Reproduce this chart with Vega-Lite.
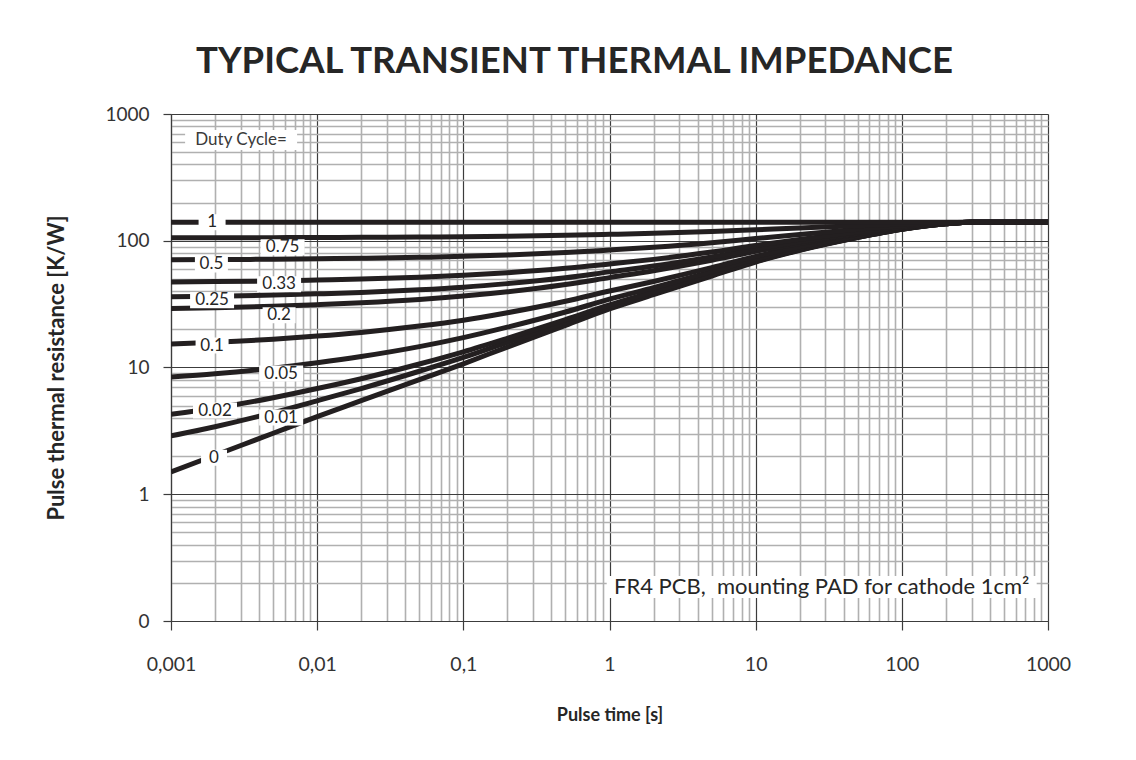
{
  "$schema": "https://vega.github.io/schema/vega-lite/v6.json",
  "width": 877,
  "height": 507,
  "autosize": {"type": "none"},
  "padding": {"left": 171, "top": 114, "right": 88, "bottom": 139},
  "background": "white",
  "title": {
    "text": "TYPICAL TRANSIENT THERMAL IMPEDANCE",
    "font": "Lato",
    "fontSize": 36.5,
    "fontWeight": "bold",
    "color": "#262626",
    "anchor": "middle",
    "frame": "group",
    "baseline": "alphabetic",
    "offset": 32,
    "dx": -35,
    "dy": 36
  },
  "datasets": {
    "curves": [
      {"d":"0","t":0.001,"z":1.5},{"d":"0","t":0.002,"z":2.03},{"d":"0","t":0.005,"z":3.03},{"d":"0","t":0.01,"z":4.1},{"d":"0","t":0.02,"z":5.47},{"d":"0","t":0.05,"z":8.02},{"d":"0","t":0.1,"z":10.7},{"d":"0","t":0.2,"z":14.5},{"d":"0","t":0.5,"z":21.5},{"d":"0","t":1,"z":29},{"d":"0","t":2,"z":37.5},{"d":"0","t":5,"z":52.6},{"d":"0","t":10,"z":68},{"d":"0","t":20,"z":84},{"d":"0","t":50,"z":106},{"d":"0","t":100,"z":123},{"d":"0","t":200,"z":136},{"d":"0","t":300,"z":140},{"d":"0","t":1000,"z":140},
      {"d":"0.01","t":0.001,"z":2.89},{"d":"0.01","t":0.002,"z":3.41},{"d":"0.01","t":0.005,"z":4.4},{"d":"0.01","t":0.01,"z":5.46},{"d":"0.01","t":0.02,"z":6.82},{"d":"0.01","t":0.05,"z":9.34},{"d":"0.01","t":0.1,"z":12},{"d":"0.01","t":0.2,"z":15.8},{"d":"0.01","t":0.5,"z":22.7},{"d":"0.01","t":1,"z":30.1},{"d":"0.01","t":2,"z":38.5},{"d":"0.01","t":5,"z":53.5},{"d":"0.01","t":10,"z":68.7},{"d":"0.01","t":20,"z":84.6},{"d":"0.01","t":50,"z":106.3},{"d":"0.01","t":100,"z":123.2},{"d":"0.01","t":200,"z":136},{"d":"0.01","t":300,"z":140},{"d":"0.01","t":1000,"z":140},
      {"d":"0.02","t":0.001,"z":4.27},{"d":"0.02","t":0.002,"z":4.79},{"d":"0.02","t":0.005,"z":5.77},{"d":"0.02","t":0.01,"z":6.82},{"d":"0.02","t":0.02,"z":8.16},{"d":"0.02","t":0.05,"z":10.66},{"d":"0.02","t":0.1,"z":13.3},{"d":"0.02","t":0.2,"z":17},{"d":"0.02","t":0.5,"z":23.9},{"d":"0.02","t":1,"z":31.2},{"d":"0.02","t":2,"z":39.6},{"d":"0.02","t":5,"z":54.4},{"d":"0.02","t":10,"z":69.4},{"d":"0.02","t":20,"z":85.1},{"d":"0.02","t":50,"z":106.7},{"d":"0.02","t":100,"z":123.3},{"d":"0.02","t":200,"z":136.1},{"d":"0.02","t":300,"z":140},{"d":"0.02","t":1000,"z":140},
      {"d":"0.05","t":0.001,"z":8.43},{"d":"0.05","t":0.002,"z":8.93},{"d":"0.05","t":0.005,"z":9.88},{"d":"0.05","t":0.01,"z":10.9},{"d":"0.05","t":0.02,"z":12.2},{"d":"0.05","t":0.05,"z":14.6},{"d":"0.05","t":0.1,"z":17.2},{"d":"0.05","t":0.2,"z":20.8},{"d":"0.05","t":0.5,"z":27.4},{"d":"0.05","t":1,"z":34.6},{"d":"0.05","t":2,"z":42.6},{"d":"0.05","t":5,"z":57},{"d":"0.05","t":10,"z":71.6},{"d":"0.05","t":20,"z":86.8},{"d":"0.05","t":50,"z":107.7},{"d":"0.05","t":100,"z":123.9},{"d":"0.05","t":200,"z":136.2},{"d":"0.05","t":300,"z":140},{"d":"0.05","t":1000,"z":140},
      {"d":"0.1","t":0.001,"z":15.35},{"d":"0.1","t":0.002,"z":15.83},{"d":"0.1","t":0.005,"z":16.73},{"d":"0.1","t":0.01,"z":17.69},{"d":"0.1","t":0.02,"z":18.92},{"d":"0.1","t":0.05,"z":21.22},{"d":"0.1","t":0.1,"z":23.6},{"d":"0.1","t":0.2,"z":27.05},{"d":"0.1","t":0.5,"z":33.35},{"d":"0.1","t":1,"z":40.1},{"d":"0.1","t":2,"z":47.75},{"d":"0.1","t":5,"z":61.3},{"d":"0.1","t":10,"z":75.2},{"d":"0.1","t":20,"z":89.6},{"d":"0.1","t":50,"z":109.4},{"d":"0.1","t":100,"z":124.7},{"d":"0.1","t":200,"z":136.4},{"d":"0.1","t":300,"z":140},{"d":"0.1","t":1000,"z":140},
      {"d":"0.2","t":0.001,"z":29.2},{"d":"0.2","t":0.002,"z":29.6},{"d":"0.2","t":0.005,"z":30.4},{"d":"0.2","t":0.01,"z":31.3},{"d":"0.2","t":0.02,"z":32.4},{"d":"0.2","t":0.05,"z":34.4},{"d":"0.2","t":0.1,"z":36.6},{"d":"0.2","t":0.2,"z":39.6},{"d":"0.2","t":0.5,"z":45.2},{"d":"0.2","t":1,"z":51.2},{"d":"0.2","t":2,"z":58},{"d":"0.2","t":5,"z":70.1},{"d":"0.2","t":10,"z":82.4},{"d":"0.2","t":20,"z":95.2},{"d":"0.2","t":50,"z":112.8},{"d":"0.2","t":100,"z":126.4},{"d":"0.2","t":200,"z":136.8},{"d":"0.2","t":300,"z":140},{"d":"0.2","t":1000,"z":140},
      {"d":"0.25","t":0.001,"z":36.1},{"d":"0.25","t":0.002,"z":36.5},{"d":"0.25","t":0.005,"z":37.3},{"d":"0.25","t":0.01,"z":38.1},{"d":"0.25","t":0.02,"z":39.1},{"d":"0.25","t":0.05,"z":41},{"d":"0.25","t":0.1,"z":43},{"d":"0.25","t":0.2,"z":45.9},{"d":"0.25","t":0.5,"z":51.1},{"d":"0.25","t":1,"z":56.8},{"d":"0.25","t":2,"z":63.1},{"d":"0.25","t":5,"z":74.5},{"d":"0.25","t":10,"z":86},{"d":"0.25","t":20,"z":98},{"d":"0.25","t":50,"z":114.5},{"d":"0.25","t":100,"z":127.3},{"d":"0.25","t":200,"z":137},{"d":"0.25","t":300,"z":140},{"d":"0.25","t":1000,"z":140},
      {"d":"0.33","t":0.001,"z":47.2},{"d":"0.33","t":0.002,"z":47.6},{"d":"0.33","t":0.005,"z":48.2},{"d":"0.33","t":0.01,"z":49},{"d":"0.33","t":0.02,"z":49.9},{"d":"0.33","t":0.05,"z":51.6},{"d":"0.33","t":0.1,"z":53.4},{"d":"0.33","t":0.2,"z":55.9},{"d":"0.33","t":0.5,"z":60.6},{"d":"0.33","t":1,"z":65.6},{"d":"0.33","t":2,"z":71.3},{"d":"0.33","t":5,"z":81.4},{"d":"0.33","t":10,"z":91.8},{"d":"0.33","t":20,"z":102.5},{"d":"0.33","t":50,"z":117.2},{"d":"0.33","t":100,"z":128.6},{"d":"0.33","t":200,"z":137.3},{"d":"0.33","t":300,"z":140},{"d":"0.33","t":1000,"z":140},
      {"d":"0.5","t":0.001,"z":70.75},{"d":"0.5","t":0.002,"z":71},{"d":"0.5","t":0.005,"z":71.5},{"d":"0.5","t":0.01,"z":72.05},{"d":"0.5","t":0.02,"z":72.7},{"d":"0.5","t":0.05,"z":74},{"d":"0.5","t":0.1,"z":75.35},{"d":"0.5","t":0.2,"z":77.25},{"d":"0.5","t":0.5,"z":80.75},{"d":"0.5","t":1,"z":84.5},{"d":"0.5","t":2,"z":88.75},{"d":"0.5","t":5,"z":96.3},{"d":"0.5","t":10,"z":104},{"d":"0.5","t":20,"z":112},{"d":"0.5","t":50,"z":123},{"d":"0.5","t":100,"z":131.5},{"d":"0.5","t":200,"z":138},{"d":"0.5","t":300,"z":140},{"d":"0.5","t":1000,"z":140},
      {"d":"0.75","t":0.001,"z":105.4},{"d":"0.75","t":0.002,"z":105.5},{"d":"0.75","t":0.005,"z":105.8},{"d":"0.75","t":0.01,"z":106},{"d":"0.75","t":0.02,"z":106.4},{"d":"0.75","t":0.05,"z":107},{"d":"0.75","t":0.1,"z":107.7},{"d":"0.75","t":0.2,"z":108.6},{"d":"0.75","t":0.5,"z":110.4},{"d":"0.75","t":1,"z":112.3},{"d":"0.75","t":2,"z":114.4},{"d":"0.75","t":5,"z":118.2},{"d":"0.75","t":10,"z":122},{"d":"0.75","t":20,"z":126},{"d":"0.75","t":50,"z":131.5},{"d":"0.75","t":100,"z":135.8},{"d":"0.75","t":200,"z":139},{"d":"0.75","t":300,"z":140},{"d":"0.75","t":1000,"z":140},
      {"d":"1","t":0.001,"z":140},{"d":"1","t":1,"z":140},{"d":"1","t":1000,"z":140}
    ],
    "labels": [
      {"t":0.00191,"z":140,"label":"1"},
      {"t":0.0058,"z":89,"label":"0.75"},
      {"t":0.00189,"z":65,"label":"0.5"},
      {"t":0.00549,"z":45.3,"label":"0.33"},
      {"t":0.00191,"z":33.9,"label":"0.25"},
      {"t":0.00549,"z":25.8,"label":"0.2"},
      {"t":0.00191,"z":14.9,"label":"0.1"},
      {"t":0.00567,"z":8.96,"label":"0.05"},
      {"t":0.002,"z":4.57,"label":"0.02"},
      {"t":0.00567,"z":4.03,"label":"0.01"},
      {"t":0.00197,"z":1.94,"label":"0"},
      {"t":0.003017,"z":623,"label":"Duty Cycle="},
      {"t":28.3,"z":0.1857,"label":"FR4 PCB,\u00a0 mounting PAD for cathode 1cm²"}
    ]
  },
  "encoding": {
    "x": {
      "field": "t",
      "type": "quantitative",
      "scale": {"type": "log", "domain": [0.001, 1000], "nice": false},
      "axis": {
        "values": [0.001,0.002,0.003,0.004,0.005,0.006,0.007,0.008,0.009,0.01,0.02,0.03,0.04,0.05,0.06,0.07,0.08,0.09,0.1,0.2,0.3,0.4,0.5,0.6,0.7,0.8,0.9,1,2,3,4,5,6,7,8,9,10,20,30,40,50,60,70,80,90,100,200,300,400,500,600,700,800,900,1000],
        "grid": true,
        "gridColor": {"condition": {"test": "indexof([0.001,0.01,0.1,1,10,100,1000], datum.value) >= 0", "value": "#3c3c3c"}, "value": "#b0b0b0"},
        "gridWidth": {"condition": {"test": "indexof([0.001,0.01,0.1,1,10,100,1000], datum.value) >= 0", "value": 1.2}, "value": 1.6},
        "tickColor": {"condition": {"test": "indexof([0.001,0.01,0.1,1,10,100,1000], datum.value) >= 0", "value": "#3c3c3c"}, "value": "transparent"},
        "tickSize": 9,
        "tickWidth": 1.2,
        "domainColor": "#3c3c3c",
        "domainWidth": 1.2,
        "labelExpr": "datum.value == 0.001 ? '0,001' : datum.value == 0.01 ? '0,01' : datum.value == 0.1 ? '0,1' : indexof([1,10,100,1000], datum.value) >= 0 ? format(datum.value, 'd') : ''",
        "labelFlush": false,
        "labelOverlap": false,
        "labelFont": "Lato",
        "labelFontSize": 19.5,
        "labelColor": "#333333",
        "labelPadding": 25,
        "title": "Pulse time [s]",
        "titleFont": "Lato",
        "titleFontSize": 18,
        "titleFontWeight": "bold",
        "titleColor": "#262626",
        "titlePadding": 33
      }
    },
    "y": {
      "field": "z",
      "type": "quantitative",
      "scale": {"type": "log", "domain": [0.1, 1000], "nice": false},
      "axis": {
        "values": [0.1,0.2,0.3,0.4,0.5,0.6,0.7,0.8,0.9,1,2,3,4,5,6,7,8,9,10,20,30,40,50,60,70,80,90,100,200,300,400,500,600,700,800,900,1000],
        "grid": true,
        "gridColor": {"condition": {"test": "indexof([0.1,1,10,100,1000], datum.value) >= 0", "value": "#3c3c3c"}, "value": "#b0b0b0"},
        "gridWidth": {"condition": {"test": "indexof([0.1,1,10,100,1000], datum.value) >= 0", "value": 1.2}, "value": 1.6},
        "tickColor": {"condition": {"test": "indexof([0.1,1,10,100,1000], datum.value) >= 0", "value": "#3c3c3c"}, "value": "transparent"},
        "tickSize": 8,
        "tickWidth": 1.2,
        "domainColor": "#3c3c3c",
        "domainWidth": 1.2,
        "labelExpr": "datum.value == 0.1 ? '0' : indexof([1,10,100,1000], datum.value) >= 0 ? format(datum.value, 'd') : ''",
        "labelOverlap": false,
        "labelFlush": false,
        "labelFont": "Lato",
        "labelFontSize": 19,
        "labelColor": "#333333",
        "labelPadding": 14,
        "title": "Pulse thermal resistance [K/W]",
        "titleFont": "Lato",
        "titleFontSize": 22,
        "titleFontWeight": "bold",
        "titleColor": "#262626",
        "titlePadding": 36
      }
    }
  },
  "layer": [
    {
      "data": {"name": "curves"},
      "mark": {"type": "line", "color": "#231f20", "strokeWidth": 5, "interpolate": "monotone", "clip": true},
      "encoding": {"detail": {"field": "d", "type": "nominal"}}
    },
    {
      "data": {"name": "labels"},
      "mark": {"type": "point", "filled": true, "color": "white", "opacity": 1, "size": 10000, "strokeWidth": 0},
      "encoding": {
        "shape": {
          "field": "label",
          "type": "nominal",
          "legend": null,
          "scale": {
            "domain": ["1","0","0.5","0.1","0.2","0.75","0.33","0.25","0.05","0.02","0.01","Duty Cycle=","FR4 PCB,\u00a0 mounting PAD for cathode 1cm²"],
            "range": [
              "M-0.27,-0.16H0.27V0.16H-0.27Z",
              "M-0.26,-0.16H0.26V0.16H-0.26Z",
              "M-0.33,-0.16H0.33V0.16H-0.33Z",
              "M-0.33,-0.16H0.33V0.16H-0.33Z",
              "M-0.33,-0.16H0.33V0.16H-0.33Z",
              "M-0.44,-0.16H0.44V0.16H-0.44Z",
              "M-0.44,-0.16H0.44V0.16H-0.44Z",
              "M-0.44,-0.16H0.44V0.16H-0.44Z",
              "M-0.44,-0.16H0.44V0.16H-0.44Z",
              "M-0.44,-0.16H0.44V0.16H-0.44Z",
              "M-0.44,-0.16H0.44V0.16H-0.44Z",
              "M-1.12,-0.2H1.12V0.2H-1.12Z",
              "M-4.3,-0.22H4.3V0.22H-4.3Z"
            ]
          }
        }
      }
    },
    {
      "data": {"name": "labels"},
      "transform": [{"filter": {"field": "label", "oneOf": ["1","0","0.5","0.1","0.2","0.75","0.33","0.25","0.05","0.02","0.01"]}}],
      "mark": {"type": "text", "font": "Lato", "fontSize": 17, "color": "#262626", "align": "center", "baseline": "middle"},
      "encoding": {"text": {"field": "label", "type": "nominal"}}
    },
    {
      "data": {"name": "labels"},
      "transform": [{"filter": {"field": "label", "equal": "Duty Cycle="}}],
      "mark": {"type": "text", "font": "Lato", "fontSize": 17, "color": "#3a3a3a", "align": "center", "baseline": "middle"},
      "encoding": {"text": {"field": "label", "type": "nominal"}}
    },
    {
      "data": {"name": "labels"},
      "transform": [{"filter": {"field": "label", "equal": "FR4 PCB,\u00a0 mounting PAD for cathode 1cm²"}}],
      "mark": {"type": "text", "font": "Lato", "fontSize": 22, "color": "#262626", "align": "center", "baseline": "middle"},
      "encoding": {"text": {"field": "label", "type": "nominal"}}
    }
  ]
}
